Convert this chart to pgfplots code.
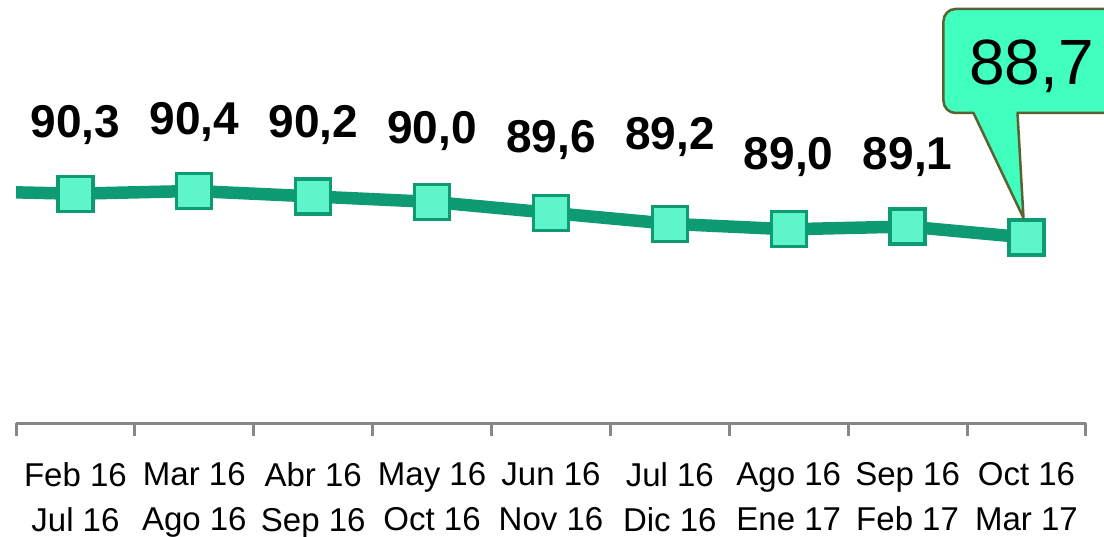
\documentclass[border=0pt]{standalone}
\usepackage{pgfplots}
\pgfplotsset{compat=1.18}
\usepackage{pgfplotstable}
\usepackage{fontspec}
\setmainfont{Liberation Sans}
\usetikzlibrary{calc}
\definecolor{linecol}{HTML}{0E9B73}
\definecolor{markfill}{HTML}{5FF5CB}
\definecolor{axisgray}{HTML}{878787}
\definecolor{callfill}{HTML}{40FFBF}
\definecolor{callborder}{HTML}{5A6233}
% values
\pgfplotstableread{
x y
0 90.3
1 90.4
2 90.2
3 90.0
4 89.6
5 89.2
6 89.0
7 89.1
8 88.7
}\maindata
% data label positions (baseline, in axis units) and texts
\pgfplotstableread{
x ylab label
0 92.37 {90,3}
1 92.48 {90,4}
2 92.34 {90,2}
3 92.15 {90,0}
4 91.82 {89,6}
5 91.93 {89,2}
6 91.17 {89,0}
7 91.20 {89,1}
}\labeldata
\begin{document}
\begin{tikzpicture}
\begin{axis}[
  at={(16pt,113pt)}, anchor=south west,
  scale only axis, width=1070pt, height=423pt,
  xmin=-0.5, xmax=8.5, ymin=81.92, ymax=97.38,
  axis x line*=bottom, axis y line=none,
  axis line style={-, draw=axisgray, line width=3pt},
  xtick={0,...,8},
  xticklabels={{Feb 16\\Jul 16},{Mar 16\\Ago 16},{Abr 16\\Sep 16},{May 16\\Oct 16},{Jun 16\\Nov 16},{Jul 16\\Dic 16},{Ago 16\\Ene 17},{Sep 16\\Feb 17},{Oct 16\\Mar 17}},
  xticklabel style={align=center, font=\fontsize{33}{45}\selectfont, text=black, anchor=north, inner sep=0pt, yshift=-39pt},
  major tick length=0pt,
  minor xtick={-0.5,0.5,...,8.5},
  minor tick length=13pt,
  tick align=outside,
  minor tick style={draw=axisgray, line width=3pt},
  clip=true,
]
\addplot[draw=linecol, line width=12.5pt, no marks] coordinates {(-1,90.4) (0,90.3)};
\addplot[draw=linecol, line width=12.5pt,
  mark=square*, mark size=17.5pt,
  mark options={fill=markfill, draw=linecol, line width=3.3pt, solid},
] table[x=x, y=y] {\maindata};
\addplot[draw=none, mark=none,
  nodes near coords, point meta=explicit symbolic,
  every node near coord/.append style={font=\fontsize{46}{50}\selectfont\bfseries, text=black, anchor=base, inner sep=0pt},
] table[x=x, y=ylab, meta=label] {\labeldata};
\coordinate (last) at (axis cs:8,88.7);
\end{axis}
\coordinate (tip) at ($(last)+(-3pt,19.5pt)$);
\draw[draw=callborder, fill=callfill, line width=2.5pt, line join=round]
  (tip) -- ($(tip)+(-50pt,105pt)$) [rounded corners=12pt] -- ($(tip)+(-80pt,105pt)$) -- ($(tip)+(-80pt,209pt)$) -- ($(tip)+(120pt,209pt)$) [sharp corners] -- ($(tip)+(120pt,105pt)$) -- ($(tip)+(-6pt,105pt)$) -- cycle;
\node[anchor=base, font=\fontsize{64}{70}\selectfont, text=black, inner sep=0pt] at ($(tip)+(8pt,133pt)$) {88,7};
\pgfresetboundingbox
\useasboundingbox (0pt,0pt) rectangle (1104pt,536pt);
\end{tikzpicture}
\end{document}
